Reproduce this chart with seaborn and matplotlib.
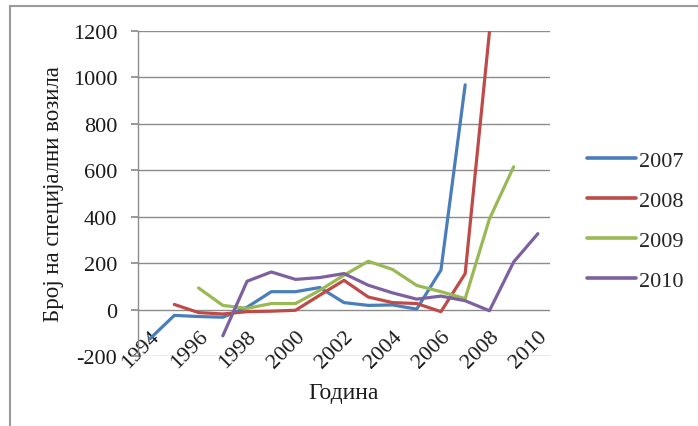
import matplotlib
matplotlib.use("Agg")
import matplotlib.pyplot as plt
from matplotlib.lines import Line2D
import seaborn as sns
import pandas as pd

# Series: number of special vehicles, each series spans 14 years ending in its own year
years_2007 = list(range(1994, 2008))
vals_2007 = [-125, -25, -30, -33, 10, 77, 77, 95, 30, 18, 20, 2, 170, 968]

years_2008 = list(range(1995, 2009))
vals_2008 = [22, -13, -19, -9, -7, -3, 62, 126, 54, 30, 26, -9, 155, 1195]

years_2009 = list(range(1996, 2010))
vals_2009 = [93, 18, 5, 26, 26, 83, 148, 208, 173, 104, 77, 47, 390, 615]

years_2010 = list(range(1997, 2011))
vals_2010 = [-113, 122, 162, 130, 138, 155, 105, 72, 45, 58, 38, -5, 205, 327]

series_names = ["2007", "2008", "2009", "2010"]
series_colors = ["#4A7EBB", "#BE4B48", "#98B954", "#7D60A0"]
x_tick_labels = [str(y) for y in range(1994, 2011, 2)]
y_ticks = [-200, 0, 200, 400, 600, 800, 1000, 1200]

frames = []
for name, yrs, vals in zip(series_names,
                           [years_2007, years_2008, years_2009, years_2010],
                           [vals_2007, vals_2008, vals_2009, vals_2010]):
    frames.append(pd.DataFrame({"Година": yrs, "value": vals, "series": name}))
df = pd.concat(frames, ignore_index=True)

sns.set_theme(style="white")
plt.rcParams["font.family"] = ["Liberation Serif", "DejaVu Serif"]
plt.rcParams["axes.unicode_minus"] = False

W, H = 698, 427
fig = plt.figure(figsize=(W / 100, H / 100), dpi=100)
ax = fig.add_axes([138 / W, 1 - 357 / H, (550 - 138) / W, (357 - 32) / H])

grid_col = "#8c8c8c"
text_col = "#1a1a1a"
ax.set_ylim(-200, 1200)
ax.set_xlim(1993.5, 2010.5)
ax.set_yticks(y_ticks)
for yv in y_ticks:
    ax.axhline(yv, color=grid_col, lw=1.0, zorder=0)

sns.lineplot(data=df, x="Година", y="value", hue="series",
             palette=dict(zip(series_names, series_colors)),
             linewidth=2.3, ax=ax, legend=False, zorder=3)

for side in ["top", "right", "bottom"]:
    ax.spines[side].set_visible(False)
ax.spines["left"].set_color(grid_col)
ax.spines["left"].set_linewidth(1.0)

ax.tick_params(axis="y", length=5, color=grid_col, pad=10,
               labelsize=16, labelcolor=text_col, left=True)
ax.set_xticks(list(range(1994, 2011, 2)))
ax.set_xticklabels(x_tick_labels, rotation=45, ha="right", va="top",
                   rotation_mode="anchor", fontsize=16, color=text_col)
ax.tick_params(axis="x", length=0, pad=-21)

ax.set_xlabel("Година", fontsize=17, color=text_col)
ax.xaxis.set_label_coords(0.5, -0.08)
ax.set_ylabel("Број на специјални возила", fontsize=16.5, color=text_col)
ax.yaxis.set_label_coords(-0.18, 0.5)

handles = [Line2D([0], [0], color=c, lw=2.6) for c in series_colors]
fig.legend(handles, series_names, loc="upper left",
           bbox_to_anchor=(567 / W, 1 - 131 / H), frameon=False,
           fontsize=16, handlelength=2.2, handletextpad=0.12,
           labelspacing=0.88)

# Outer frame lines (left and top)
fig.add_artist(Line2D([10 / W, 10 / W], [0, 1 - 7 / H], transform=fig.transFigure,
                      color="#9a9a9a", lw=1.5))
fig.add_artist(Line2D([10 / W, 1], [1 - 7 / H, 1 - 7 / H], transform=fig.transFigure,
                      color="#9a9a9a", lw=1.5))

fig.savefig("out.png", dpi=100, facecolor="white")
